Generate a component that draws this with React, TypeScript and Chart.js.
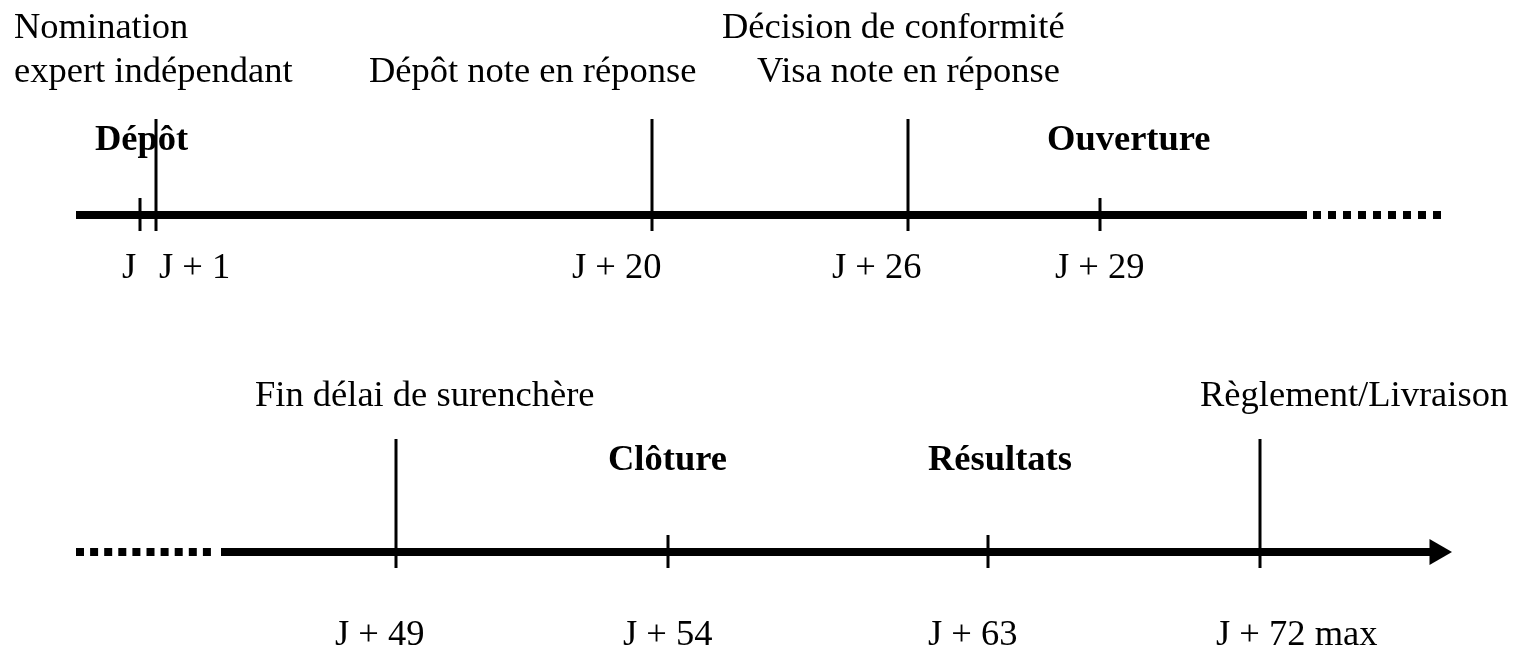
import { useEffect, useRef } from "react";
import { Chart, registerables } from "chart.js";

Chart.register(...registerables);

// ---- Data (schematic timeline: x = position along the drawing, not proportional to days) ----
// Upper timeline
const topTickLabels = ["J", "J + 1", "J + 20", "J + 26", "J + 29"];
const topTickPos = [140, 156, 652, 908, 1100];
const topTickTall = [false, true, true, true, false];
const topEventLabels = ["Nomination", "expert indépendant", "Dépôt note en réponse", "Décision de conformité", "Visa note en réponse"];
const topPhaseLabels = ["Dépôt", "Ouverture"];

// Lower timeline
const bottomTickLabels = ["J + 49", "J + 54", "J + 63", "J + 72 max"];
const bottomTickPos = [396, 668, 988, 1260];
const bottomTickTall = [true, false, false, true];
const bottomEventLabels = ["Fin délai de surenchère", "Règlement/Livraison"];
const bottomPhaseLabels = ["Clôture", "Résultats"];

// ---- Layout (schematic units = drawing units) ----
const W = 1526;
const H = 651;
const topY = 215;
const bottomY = 552;
const topSolid = [76, 1307];
const topDotted = [1313, 1442];
const bottomDotted = [76, 214];
const bottomSolid = [221, 1437];
const tickBelow = 16;
const topTallAbove = 96;
const bottomTallAbove = 113;
const shortAbove = 17;

const topTickLabelX = [122, 159, 572, 832, 1055];
const topTickLabelY = 278;
const bottomTickLabelX = [335, 623, 928, 1216];
const bottomTickLabelY = 645;
const topEventX = [14, 14, 369, 722, 757];
const topEventY = [38, 82, 82, 38, 82];
const topPhaseX = [95, 1047];
const topPhaseY = [150, 150];
const bottomEventX = [255, 1200];
const bottomEventY = [406, 406];
const bottomPhaseX = [608, 928];
const bottomPhaseY = [470, 470];

const FONT = '"Liberation Serif", "Times New Roman", Times, serif';
const FONT_SIZE = 36.5;

type Txt = { t: string; x: number; y: number; bold: boolean };

function buildTexts(): Txt[] {
  const out: Txt[] = [];
  topTickLabels.forEach((t, i) => out.push({ t, x: topTickLabelX[i], y: topTickLabelY, bold: false }));
  bottomTickLabels.forEach((t, i) => out.push({ t, x: bottomTickLabelX[i], y: bottomTickLabelY, bold: false }));
  topEventLabels.forEach((t, i) => out.push({ t, x: topEventX[i], y: topEventY[i], bold: false }));
  topPhaseLabels.forEach((t, i) => out.push({ t, x: topPhaseX[i], y: topPhaseY[i], bold: true }));
  bottomEventLabels.forEach((t, i) => out.push({ t, x: bottomEventX[i], y: bottomEventY[i], bold: false }));
  bottomPhaseLabels.forEach((t, i) => out.push({ t, x: bottomPhaseX[i], y: bottomPhaseY[i], bold: true }));
  return out;
}

function buildTicks() {
  const pts: { x: number; y: number | null }[] = [];
  topTickPos.forEach((p, i) => {
    pts.push({ x: p, y: topY - (topTickTall[i] ? topTallAbove : shortAbove) });
    pts.push({ x: p, y: topY + tickBelow });
    pts.push({ x: p, y: null });
  });
  bottomTickPos.forEach((p, i) => {
    pts.push({ x: p, y: bottomY - (bottomTickTall[i] ? bottomTallAbove : shortAbove) });
    pts.push({ x: p, y: bottomY + tickBelow });
    pts.push({ x: p, y: null });
  });
  return pts;
}

const textPlugin = {
  id: "timelineTexts",
  afterDatasetsDraw(chart: any) {
    const { ctx, scales } = chart;
    const xs = scales.x;
    const ys = scales.y;
    ctx.save();
    ctx.fillStyle = "#000";
    ctx.textAlign = "left";
    ctx.textBaseline = "alphabetic";
    buildTexts().forEach((o) => {
      ctx.font = `${o.bold ? "bold " : ""}${FONT_SIZE}px ${FONT}`;
      ctx.fillText(o.t, xs.getPixelForValue(o.x), ys.getPixelForValue(o.y));
    });
    ctx.restore();
  },
};

export default function App() {
  const ref = useRef<HTMLCanvasElement | null>(null);

  useEffect(() => {
    if (!ref.current) return;
    const lineBase = {
      type: "line" as const,
      borderColor: "#000",
      pointRadius: 0,
      tension: 0,
      borderCapStyle: "butt" as const,
      spanGaps: false,
    };
    const chart = new Chart(ref.current, {
      type: "line",
      data: {
        datasets: [
          {
            ...lineBase,
            label: "top",
            borderWidth: 8,
            data: [
              { x: topSolid[0], y: topY },
              { x: topSolid[1], y: topY },
            ],
          },
          {
            ...lineBase,
            label: "topDots",
            borderWidth: 8,
            borderDash: [8, 7],
            data: [
              { x: topDotted[0], y: topY },
              { x: topDotted[1], y: topY },
            ],
          },
          {
            ...lineBase,
            label: "bottomDots",
            borderWidth: 8,
            borderDash: [8, 6.1],
            data: [
              { x: bottomDotted[0], y: bottomY },
              { x: bottomDotted[1], y: bottomY },
            ],
          },
          {
            ...lineBase,
            label: "bottom",
            borderWidth: 8,
            pointRadius: [0, 15],
            pointStyle: "triangle",
            rotation: 90,
            pointBackgroundColor: "#000",
            pointBorderColor: "#000",
            pointBorderWidth: 0,
            data: [
              { x: bottomSolid[0], y: bottomY },
              { x: bottomSolid[1], y: bottomY },
            ],
          },
          {
            ...lineBase,
            label: "ticks",
            borderWidth: 3,
            data: buildTicks(),
          },
        ] as any,
      },
      options: {
        animation: false,
        responsive: false,
        events: [],
        layout: { padding: 0, autoPadding: false },
        plugins: { legend: { display: false }, tooltip: { enabled: false } },
        scales: {
          x: { type: "linear", min: 0, max: W, display: false },
          y: { type: "linear", min: 0, max: H, reverse: true, display: false },
        },
      },
      plugins: [textPlugin],
    });
    return () => chart.destroy();
  }, []);

  return (
    <canvas
      ref={ref}
      width={W}
      height={H}
      style={{ position: "absolute", left: 0, top: 0, display: "block", background: "#fff" }}
    />
  );
}
